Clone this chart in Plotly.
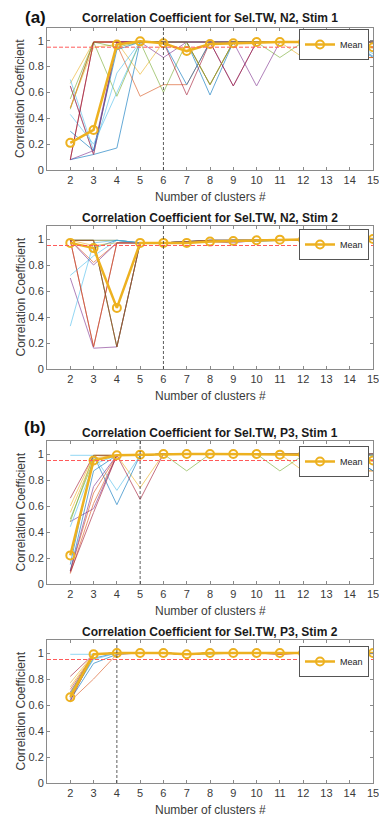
import plotly.graph_objects as go

# ---------------- data ----------------
clusters = [2, 3, 4, 5, 6, 7, 8, 9, 10, 11, 12, 13, 14, 15]
x_tick_vals = [2, 3, 4, 5, 6, 7, 8, 9, 10, 11, 12, 13, 14, 15]
y_tick_vals = [0, 0.2, 0.4, 0.6, 0.8, 1]
y_tick_text = ["0", "0.2", "0.4", "0.6", "0.8", "1"]

titles = ["Correlation Coefficient for Sel.TW, N2, Stim 1",
          "Correlation Coefficient for Sel.TW, N2, Stim 2",
          "Correlation Coefficient for Sel.TW, P3, Stim 1",
          "Correlation Coefficient for Sel.TW, P3, Stim 2"]
chosen_k = [6, 6, 5, 4]
threshold = 0.95

# N2, Stim 1 individual runs
n2s1_runs = [
    [0.08, 0.12, 0.17, 0.99, 0.99, 0.99, 0.58, 0.99, 0.99, 0.99, 0.99, 0.87, 0.99, 0.88],
    [0.65, 0.12, 0.97, 0.57, 0.66, 0.66, 0.99, 0.99, 0.99, 0.99, 0.99, 0.99, 0.87, 0.87],
    [0.67, 0.99, 0.99, 0.74, 0.99, 0.99, 0.99, 0.99, 0.99, 0.99, 0.87, 0.87, 0.87, 0.87],
    [0.08, 0.15, 0.99, 0.99, 0.87, 0.99, 0.99, 0.65, 0.99, 0.99, 0.99, 0.99, 0.99, 0.99],
    [0.47, 0.99, 0.57, 0.99, 0.60, 0.99, 0.66, 0.99, 0.99, 0.87, 0.99, 0.99, 0.99, 0.99],
    [0.70, 0.15, 0.75, 0.99, 0.99, 0.99, 0.99, 0.99, 0.99, 0.99, 0.99, 0.99, 0.99, 0.90],
    [0.08, 0.99, 0.99, 0.99, 0.99, 0.58, 0.99, 0.65, 0.99, 0.99, 0.99, 0.99, 0.99, 0.99],
    [0.30, 0.15, 0.93, 0.99, 0.99, 0.66, 0.99, 0.99, 0.99, 0.99, 0.99, 0.87, 0.99, 0.87],
    [0.48, 0.99, 0.99, 0.99, 0.99, 0.99, 0.66, 0.99, 0.99, 0.99, 0.99, 0.99, 0.87, 0.87],
    [0.48, 0.95, 0.97, 0.99, 0.99, 0.99, 0.99, 0.99, 0.99, 0.99, 0.99, 0.99, 0.99, 0.99],
    [0.65, 0.12, 0.99, 0.99, 0.99, 0.99, 0.99, 0.99, 0.65, 0.99, 0.99, 0.99, 0.99, 0.99],
    [0.55, 0.99, 0.95, 0.99, 0.99, 0.99, 0.66, 0.99, 0.99, 0.99, 0.99, 0.99, 0.99, 0.99],
    [0.43, 0.20, 0.60, 0.99, 0.99, 0.99, 0.99, 0.99, 0.99, 0.99, 0.99, 0.99, 0.99, 0.99],
    [0.08, 0.99, 0.99, 0.99, 0.99, 0.99, 0.99, 0.99, 0.99, 0.99, 0.99, 0.99, 0.99, 0.99],
]
n2s1_mean = [0.21, 0.31, 0.97, 0.995, 0.98, 0.92, 0.975, 0.98, 0.99, 0.99, 0.99, 0.97, 0.97, 0.95]

# N2, Stim 2 individual runs
n2s2_runs = [
    [0.99, 0.99, 0.99, 0.97, 0.97, 0.98, 0.99, 0.99, 0.99, 0.99, 0.99, 1.00, 1.00, 1.00],
    [0.99, 0.82, 0.97, 0.97, 0.97, 0.98, 0.98, 0.98, 0.99, 0.99, 1.00, 1.00, 1.00, 1.00],
    [0.99, 0.99, 0.99, 0.97, 0.97, 0.97, 0.98, 0.98, 0.99, 0.99, 0.99, 1.00, 1.00, 1.00],
    [0.70, 0.16, 0.17, 0.97, 0.97, 0.97, 0.98, 0.97, 0.99, 0.99, 0.99, 1.00, 1.00, 1.00],
    [0.99, 0.99, 0.17, 0.97, 0.97, 0.98, 0.99, 0.99, 0.99, 0.99, 0.99, 1.00, 1.00, 1.00],
    [0.33, 0.97, 0.99, 0.97, 0.97, 0.98, 0.98, 0.99, 0.99, 0.99, 0.99, 1.00, 1.00, 1.00],
    [0.99, 0.17, 0.97, 0.97, 0.97, 0.98, 0.99, 0.99, 0.99, 0.99, 0.99, 1.00, 1.00, 1.00],
    [0.97, 0.93, 0.99, 0.97, 0.97, 0.98, 0.98, 0.99, 0.98, 0.99, 0.99, 1.00, 1.00, 1.00],
    [0.99, 0.17, 0.97, 0.97, 0.97, 0.98, 0.98, 0.99, 0.99, 0.99, 0.99, 1.00, 1.00, 1.00],
    [0.99, 0.95, 0.97, 0.97, 0.97, 0.97, 0.98, 0.98, 0.99, 0.99, 0.99, 1.00, 1.00, 1.00],
    [0.99, 0.80, 0.97, 0.97, 0.97, 0.98, 0.98, 0.99, 0.99, 0.99, 0.99, 1.00, 1.00, 1.00],
    [0.99, 0.99, 0.17, 0.97, 0.97, 0.98, 0.99, 0.99, 0.99, 0.99, 0.99, 1.00, 1.00, 1.00],
    [0.72, 0.87, 0.99, 0.97, 0.97, 0.98, 0.98, 0.99, 0.99, 0.99, 0.99, 1.00, 1.00, 1.00],
    [0.99, 0.99, 0.17, 0.97, 0.97, 0.98, 0.99, 0.99, 0.99, 0.99, 0.99, 1.00, 1.00, 1.00],
]
n2s2_mean = [0.97, 0.93, 0.47, 0.97, 0.97, 0.97, 0.98, 0.985, 0.99, 0.995, 0.995, 1.00, 1.00, 1.00]

# P3, Stim 1 individual runs
p3s1_runs = [
    [0.10, 0.87, 0.99, 0.99, 1.00, 1.00, 1.00, 1.00, 1.00, 1.00, 0.99, 0.87, 0.99, 0.87],
    [0.08, 0.62, 0.99, 0.99, 1.00, 1.00, 1.00, 1.00, 1.00, 1.00, 0.99, 0.99, 0.87, 0.87],
    [0.60, 0.99, 0.99, 0.74, 1.00, 1.00, 1.00, 1.00, 1.00, 1.00, 0.87, 0.87, 0.87, 0.87],
    [0.48, 0.58, 0.99, 0.99, 1.00, 1.00, 1.00, 1.00, 1.00, 1.00, 1.00, 1.00, 1.00, 0.99],
    [0.48, 0.99, 0.99, 0.99, 1.00, 0.87, 1.00, 1.00, 1.00, 0.87, 0.99, 0.87, 0.99, 0.99],
    [0.99, 0.99, 0.72, 0.99, 1.00, 1.00, 1.00, 1.00, 1.00, 1.00, 1.00, 1.00, 1.00, 0.99],
    [0.66, 0.99, 0.99, 0.65, 1.00, 1.00, 1.00, 1.00, 1.00, 1.00, 1.00, 1.00, 1.00, 1.00],
    [0.15, 0.99, 0.61, 0.99, 1.00, 1.00, 1.00, 1.00, 1.00, 1.00, 1.00, 1.00, 0.99, 0.87],
    [0.10, 0.70, 0.99, 0.99, 1.00, 1.00, 1.00, 1.00, 1.00, 1.00, 1.00, 1.00, 1.00, 1.00],
    [0.55, 0.97, 0.99, 0.99, 1.00, 1.00, 1.00, 1.00, 1.00, 1.00, 1.00, 1.00, 1.00, 1.00],
    [0.10, 0.75, 0.99, 0.99, 1.00, 1.00, 1.00, 1.00, 1.00, 1.00, 1.00, 1.00, 1.00, 1.00],
    [0.50, 0.95, 0.99, 0.99, 1.00, 1.00, 1.00, 1.00, 1.00, 1.00, 1.00, 1.00, 1.00, 1.00],
    [0.44, 0.92, 0.99, 0.99, 1.00, 1.00, 1.00, 1.00, 1.00, 1.00, 1.00, 1.00, 1.00, 1.00],
    [0.09, 0.55, 0.99, 0.99, 1.00, 1.00, 1.00, 1.00, 1.00, 1.00, 1.00, 1.00, 1.00, 1.00],
]
p3s1_mean = [0.22, 0.95, 0.99, 0.995, 1.00, 1.00, 1.00, 1.00, 1.00, 0.995, 0.995, 0.98, 0.97, 0.95]

# P3, Stim 2 individual runs
p3s2_runs = [
    [0.64, 0.92, 0.99, 1.00, 1.00, 0.99, 1.00, 1.00, 1.00, 1.00, 1.00, 1.00, 1.00, 1.00],
    [0.63, 0.80, 0.99, 1.00, 1.00, 0.99, 1.00, 1.00, 1.00, 0.99, 1.00, 1.00, 1.00, 1.00],
    [0.77, 0.99, 1.00, 1.00, 1.00, 0.99, 1.00, 1.00, 1.00, 1.00, 1.00, 1.00, 1.00, 1.00],
    [0.70, 0.99, 1.00, 1.00, 1.00, 0.99, 1.00, 1.00, 1.00, 1.00, 1.00, 1.00, 1.00, 1.00],
    [0.68, 0.99, 1.00, 1.00, 1.00, 0.99, 0.99, 1.00, 1.00, 1.00, 1.00, 1.00, 1.00, 1.00],
    [0.99, 0.99, 1.00, 1.00, 1.00, 0.99, 1.00, 1.00, 1.00, 1.00, 1.00, 1.00, 1.00, 1.00],
    [0.82, 0.99, 1.00, 1.00, 1.00, 0.99, 1.00, 1.00, 1.00, 0.99, 1.00, 1.00, 1.00, 1.00],
    [0.66, 0.96, 1.00, 1.00, 1.00, 0.99, 1.00, 1.00, 1.00, 1.00, 1.00, 1.00, 1.00, 1.00],
    [0.72, 0.99, 1.00, 1.00, 1.00, 0.99, 1.00, 1.00, 1.00, 1.00, 1.00, 1.00, 1.00, 1.00],
    [0.74, 0.99, 1.00, 1.00, 1.00, 0.99, 1.00, 1.00, 1.00, 1.00, 1.00, 1.00, 1.00, 1.00],
    [0.65, 0.99, 1.00, 1.00, 1.00, 0.99, 1.00, 1.00, 1.00, 1.00, 1.00, 1.00, 1.00, 1.00],
    [0.69, 0.99, 1.00, 1.00, 1.00, 0.99, 1.00, 1.00, 1.00, 1.00, 1.00, 1.00, 1.00, 1.00],
    [0.67, 0.95, 1.00, 1.00, 1.00, 0.99, 1.00, 1.00, 1.00, 1.00, 1.00, 1.00, 1.00, 1.00],
    [0.63, 0.99, 1.00, 1.00, 1.00, 0.99, 1.00, 1.00, 1.00, 1.00, 1.00, 1.00, 1.00, 1.00],
]
p3s2_mean = [0.66, 0.99, 1.00, 1.00, 1.00, 0.99, 1.00, 1.00, 1.00, 1.00, 1.00, 1.00, 1.00, 1.00]

panel_runs = [n2s1_runs, n2s2_runs, p3s1_runs, p3s2_runs]
panel_means = [n2s1_mean, n2s2_mean, p3s1_mean, p3s2_mean]

# ---------------- style ----------------
W, H = 379, 820
ML, MR = 47, 6
PW = W - ML - MR
matlab_colors = ['#0072BD', '#D95319', '#EDB120', '#7E2F8E', '#77AC30', '#4DBEEE', '#A2142F']
mean_color = '#EDB120'
font_family = "Liberation Sans, Arial, sans-serif"
axis_col = '#8a8a8a'
text_col = '#3a3a3a'

# pixel layout (top, bottom of each plot area, ylim top=1.1)
plot_px = [(27.8, 170), (226, 369), (441, 584), (640, 783)]
title_px = [18, 218, 433, 632]
xlabel_px = [197, 396, 611, 810]
legend_top_px = [29, 229, 446, 646]


def py(p):
    return 1 - p / H


def px(p):
    return (p - ML) / PW


fig = go.Figure()
layout = dict(
    width=W, height=H,
    margin=dict(l=ML, r=MR, t=0, b=0),
    paper_bgcolor='white', plot_bgcolor='white',
    font=dict(family=font_family, color=text_col),
    annotations=[], shapes=[],
)

for i in range(4):
    k = i + 1
    xa = 'x' if k == 1 else f'x{k}'
    ya = 'y' if k == 1 else f'y{k}'
    lg = 'legend' if k == 1 else f'legend{k}'
    runs = panel_runs[i]
    for j, run in enumerate(runs):
        fig.add_trace(go.Scatter(
            x=clusters, y=run, mode='lines', xaxis=xa, yaxis=ya,
            line=dict(color=matlab_colors[j % 7], width=1),
            opacity=0.6, showlegend=False, hoverinfo='skip'))
    fig.add_trace(go.Scatter(
        x=clusters, y=panel_means[i], mode='lines+markers', name='Mean',
        xaxis=xa, yaxis=ya, legend=lg,
        line=dict(color=mean_color, width=2.5),
        marker=dict(symbol='circle-open', size=8, color=mean_color,
                    line=dict(width=2, color=mean_color))))

    top, bot = plot_px[i]
    axis_common = dict(
        showgrid=False, zeroline=False, showline=True, linecolor=axis_col,
        linewidth=1, mirror='ticks', ticks='inside', ticklen=3,
        tickcolor=axis_col, tickfont=dict(size=11, color=text_col),
        automargin=False, ticklabeloverflow='allow')
    layout['xaxis' if k == 1 else f'xaxis{k}'] = dict(
        axis_common, domain=[0, 1], range=[1, 15], tickvals=x_tick_vals,
        anchor=ya)
    layout['yaxis' if k == 1 else f'yaxis{k}'] = dict(
        axis_common, domain=[py(bot), py(top)], range=[0, 1.1],
        tickvals=y_tick_vals, ticktext=y_tick_text, anchor=xa)

    layout[lg] = dict(
        x=px(369), xanchor='right', y=py(legend_top_px[i]), yanchor='top',
        bgcolor='white', bordercolor='#555555', borderwidth=1,
        font=dict(size=9, color='#222222'), itemwidth=30,
        tracegroupgap=0)

    # reference lines
    layout['shapes'].append(dict(
        type='line', xref=f'{xa} domain', yref=ya, x0=0, x1=1,
        y0=threshold, y1=threshold,
        line=dict(color='#ff5a5a', width=1, dash='4px,2px'),
        layer='above'))
    layout['shapes'].append(dict(
        type='line', xref=xa, yref=f'{ya} domain', x0=chosen_k[i], x1=chosen_k[i],
        y0=0, y1=1, line=dict(color='#333333', width=0.8, dash='3px,2px'),
        layer='above'))

    # titles and axis labels
    layout['annotations'].append(dict(
        text=f'<b>{titles[i]}</b>', xref='paper', yref='paper',
        x=0.5, y=py(title_px[i]), xanchor='center', yanchor='middle',
        showarrow=False, font=dict(size=12, color='#1a1a1a')))
    layout['annotations'].append(dict(
        text='Number of clusters #', xref='paper', yref='paper',
        x=0.5, y=py(xlabel_px[i]), xanchor='center', yanchor='middle',
        showarrow=False, font=dict(size=12, color=text_col)))
    layout['annotations'].append(dict(
        text='Correlation Coefficient', xref='paper', yref='paper',
        x=px(20), y=py((top + bot) / 2), xanchor='center', yanchor='middle',
        textangle=-90, showarrow=False, font=dict(size=12, color=text_col)))

for lbl, ypix in [('(a)', 17), ('(b)', 427)]:
    layout['annotations'].append(dict(
        text=f'<b>{lbl}</b>', xref='paper', yref='paper',
        x=px(35), y=py(ypix), xanchor='center', yanchor='middle',
        showarrow=False, font=dict(size=17, color='#111111')))

fig.update_layout(**layout)
fig.write_html("out.html")
